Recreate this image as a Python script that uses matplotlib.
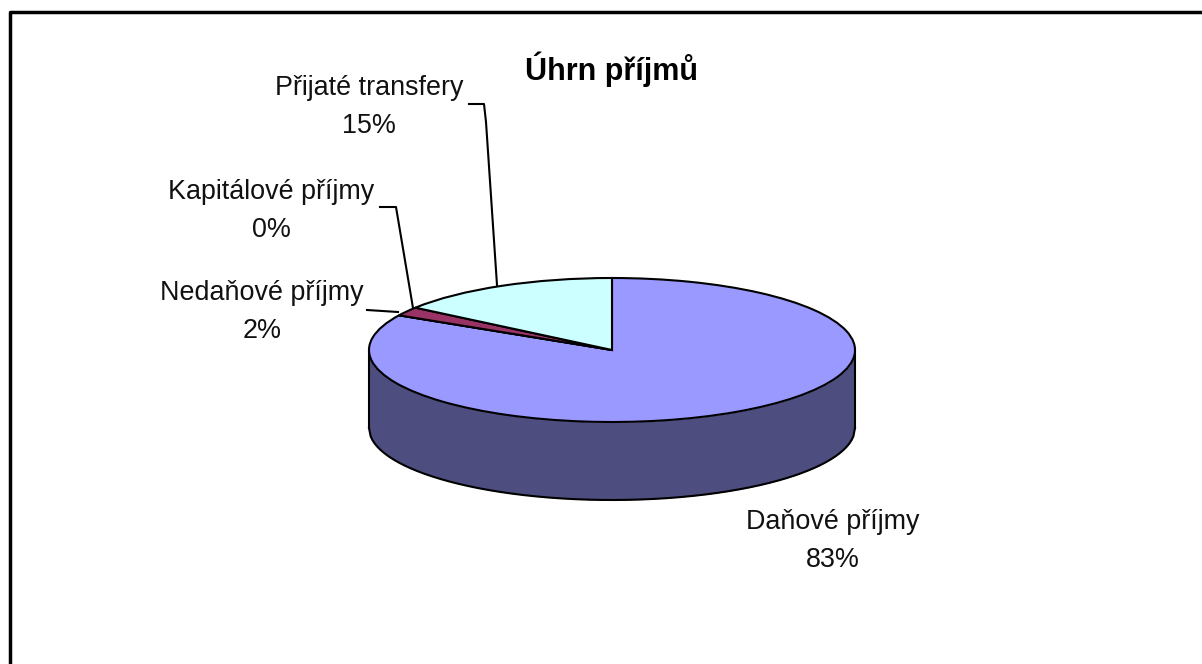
import numpy as np
import matplotlib
matplotlib.use('Agg')
import matplotlib.pyplot as plt

# data
labels = ['Daňové příjmy', 'Kapitálové příjmy', 'Nedaňové příjmy', 'Přijaté transfery']
values = [83, 0, 2, 15]
colors = ['#9999FF', '#FFFFCC', '#993366', '#CCFFFF']
title = 'Úhrn příjmů'

W, H = 1202, 664
cx, cy = 612, 350   # stred kolace v pixelech
rx, ry = 243, 72
depth = 78

plt.rcParams['font.family'] = ['Liberation Sans', 'DejaVu Sans']

fig = plt.figure(figsize=(W / 100, H / 100), dpi=100)
ax = fig.add_axes([0, 0, 1, 1])

# bocni stena
x = np.linspace(-1, 1, 300)
front = -np.sqrt(1 - x ** 2)
d = depth / ry
ax.fill_between(x, front, front - d, color='#4D4D80', lw=0, zorder=1)
ax.plot(x, front - d, color='black', lw=1.5, zorder=2)
ax.plot([-1, -1], [0, -d], color='black', lw=1.5, zorder=2)
ax.plot([1, 1], [0, -d], color='black', lw=1.5, zorder=2)

ax.pie(values, colors=colors, startangle=90, counterclock=False, radius=1,
       wedgeprops={'edgecolor': 'black', 'linewidth': 1.5, 'zorder': 3})
ax.set_aspect('auto')
ax.set_xlim(-cx / rx, (W - cx) / rx)
ax.set_ylim((cy - H) / ry, cy / ry)
ax.axis('off')


def px(xp, yp):
    return (xp - cx) / rx, (cy - yp) / ry


# popisky (pixelove pozice)
label_pos = [(833, 541), (271, 211), (262, 312), (369, 107)]
for name, val, (lx, ly) in zip(labels, values, label_pos):
    ax.text(*px(lx, ly), f'{name}\n{val}%', ha='center', va='center', fontsize=19.4,
            color='#111111', linespacing=1.6, zorder=5)

ax.text(*px(611, 69), title, ha='center', va='center', fontsize=22, fontweight='bold', zorder=5)

# vodici cary
leaders = [
    [(469, 104), (484, 104), (486, 122), (497, 285)],
    [(380, 207), (396, 207), (413, 308)],
    [(367, 310), (398, 312)],
]
for line in leaders:
    pts = [px(*p) for p in line]
    ax.plot([p[0] for p in pts], [p[1] for p in pts], color='black', lw=1.5, zorder=4)

# ramecek
ax.plot(*zip(px(9.5, H), px(9.5, 12), px(W, 12)), color='black', lw=2.5, zorder=6)

fig.savefig('out.png', dpi=100)
